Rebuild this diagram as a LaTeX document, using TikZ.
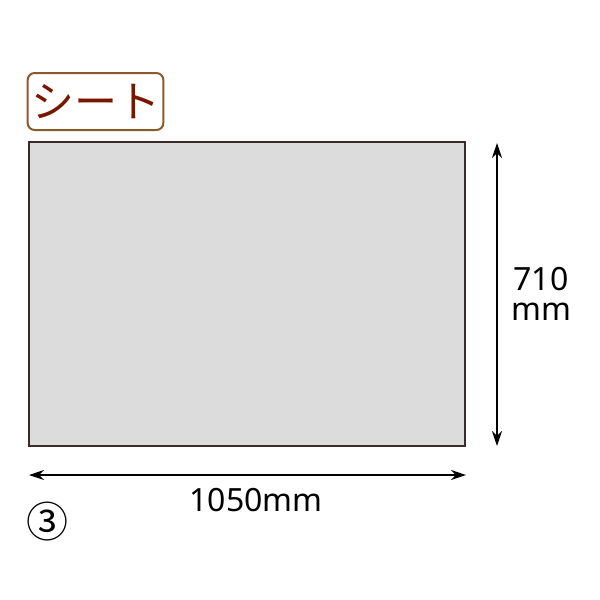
\documentclass[tikz,border=0pt]{standalone}
\usepackage{fontspec}
\setmainfont{Noto Sans}
\newfontfamily\cjk{Noto Sans CJK JP}
\usetikzlibrary{arrows.meta}
\definecolor{labelbrown}{RGB}{139,90,43}
\definecolor{labeltext}{RGB}{120,22,0}
\definecolor{sheetgray}{RGB}{220,220,220}
\definecolor{sheetedge}{RGB}{58,42,42}
\tikzstyle{title} = [rectangle, rounded corners=7pt, draw=labelbrown, line width=2pt,
minimum width=135pt, minimum height=57pt, text=labeltext, font=\cjk\fontsize{43}{43}\selectfont]
\tikzstyle{sheet} = [rectangle, draw=sheetedge, line width=2pt, fill=sheetgray,
minimum width=436pt, minimum height=304pt]
\tikzstyle{dim} = [font=\fontsize{32}{34}\selectfont, align=center]
\tikzstyle{arrow} = [line width=1.3pt,{Stealth[length=15pt,width=10pt]}-{Stealth[length=15pt,width=10pt]}]

\begin{document}
\begin{tikzpicture}[x=1pt,y=-1pt]
\useasboundingbox (0,0) rectangle (600,600);
\node (label)[title] at (95.5,101.5){シート};
\node (sheet)[sheet] at (247,294){};
\coordinate (vtop) at (497,143);
\coordinate (vbot) at (497,446);
\coordinate (hleft) at (29,475);
\coordinate (hright) at (466,475);
\node (height)[dim] at (541,294){710\\[-4pt]mm};
\node (width)[dim] at (256,500){1050mm};
\node (num)[font=\cjk\fontsize{42}{42}\selectfont] at (48,522){③};

\draw [arrow](vtop) -- (vbot);
\draw [arrow](hleft) -- (hright);
\end{tikzpicture}
\end{document}
